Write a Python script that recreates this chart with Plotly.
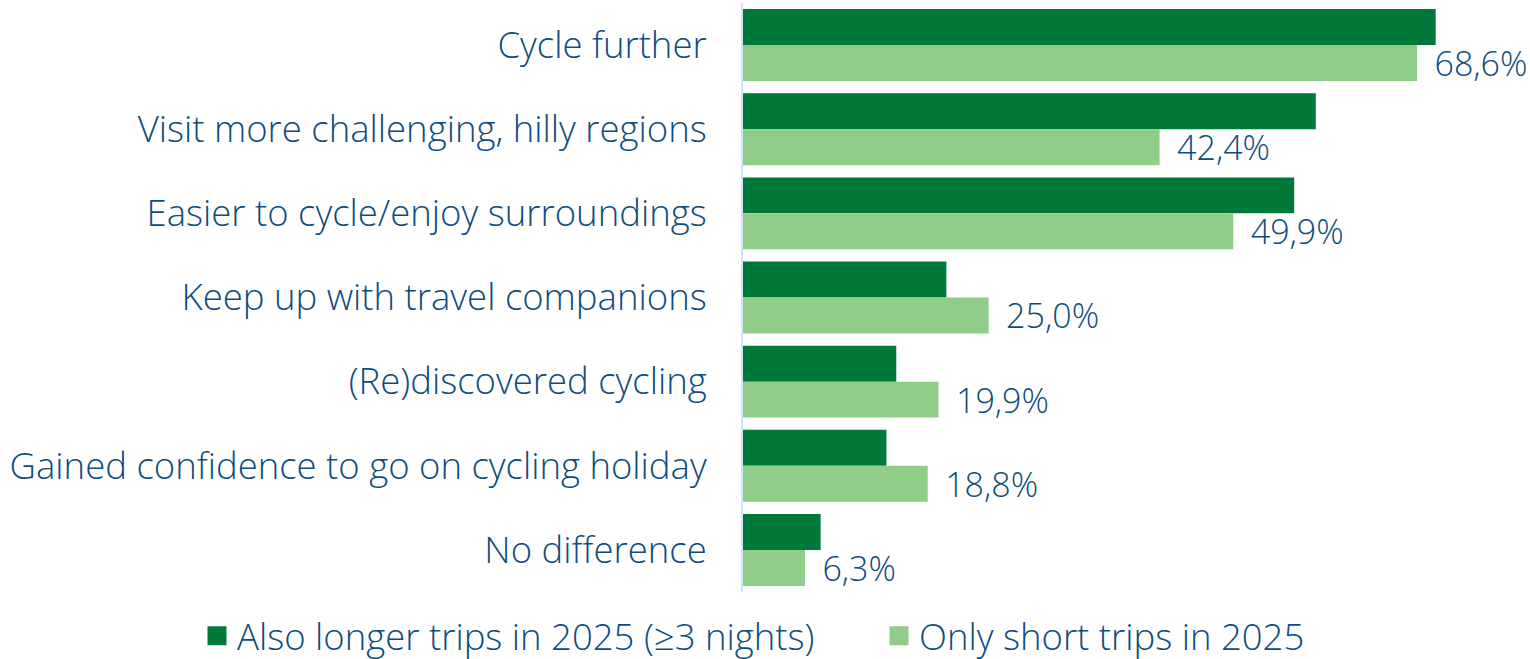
import plotly.graph_objects as go

categories = [
    "Cycle further",
    "Visit more challenging, hilly regions",
    "Easier to cycle/enjoy surroundings",
    "Keep up with travel companions",
    "(Re)discovered cycling",
    "Gained confidence to go on cycling holiday",
    "No difference",
]
longer_trips = [70.5, 58.3, 56.1, 20.7, 15.6, 14.6, 7.9]
short_trips = [68.6, 42.4, 49.9, 25.0, 19.9, 18.8, 6.3]
series_names = ["Also longer trips in 2025 (≥3 nights)", "Only short trips in 2025"]

DARK = "#00783A"
LIGHT = "#8FCD88"
TEXT = "#0E4C80"
FONT = "Open Sans"
FS = 36.5
FS_VAL = 34

fig = go.Figure()
fig.add_trace(go.Bar(
    y=categories, x=longer_trips, orientation="h", name=series_names[0],
    marker=dict(color=DARK, line=dict(width=0)), showlegend=False,
))
fig.add_trace(go.Bar(
    y=categories, x=short_trips, orientation="h", name=series_names[1],
    marker=dict(color=LIGHT, line=dict(width=0)), showlegend=False,
    text=short_trips, texttemplate=" \u2009%{x:.1f}%", textposition="outside",
    constraintext="none",
    textfont=dict(color=TEXT, size=FS_VAL, family=FONT, weight=300), cliponaxis=False,
))
# legend entries with larger square symbols, each in its own legend box
for name, col, lg in zip(series_names, [DARK, LIGHT], ["legend", "legend2"]):
    fig.add_trace(go.Scatter(
        x=[None], y=[None], mode="markers", name=name, legend=lg,
        marker=dict(symbol="square", size=16, color=col, line=dict(width=3, color=col)),
    ))

legend_common = dict(
    orientation="h", xref="container", yref="container",
    xanchor="left", y=1 - 636 / 659, yanchor="middle",
    font=dict(size=FS, family=FONT, color=TEXT, weight=300),
    itemwidth=30, bgcolor="rgba(0,0,0,0)",
)

fig.update_layout(
    width=1530, height=659,
    barmode="group", bargap=0.145, bargroupgap=0,
    separators=",.",
    plot_bgcolor="white", paper_bgcolor="white",
    margin=dict(l=743, r=1, t=3, b=67, autoexpand=False),
    font=dict(family=FONT, color=TEXT, size=FS, weight=300),
    xaxis=dict(range=[0, 80], visible=False, showgrid=False, zeroline=False),
    yaxis=dict(
        autorange="reversed", showgrid=False, zeroline=False, automargin=False,
        showline=True, linecolor="#CFE4F4", linewidth=2,
        ticks="", ticklabelstandoff=27,
        tickfont=dict(size=FS, family=FONT, color=TEXT, weight=300),
    ),
    legend=dict(x=197 / 1530, **legend_common),
    legend2=dict(x=879 / 1530, **legend_common),
)

fig.write_html(
    "out.html",
    config={"displayModeBar": False},
    post_script="document.body.style.margin='0px';",
)
